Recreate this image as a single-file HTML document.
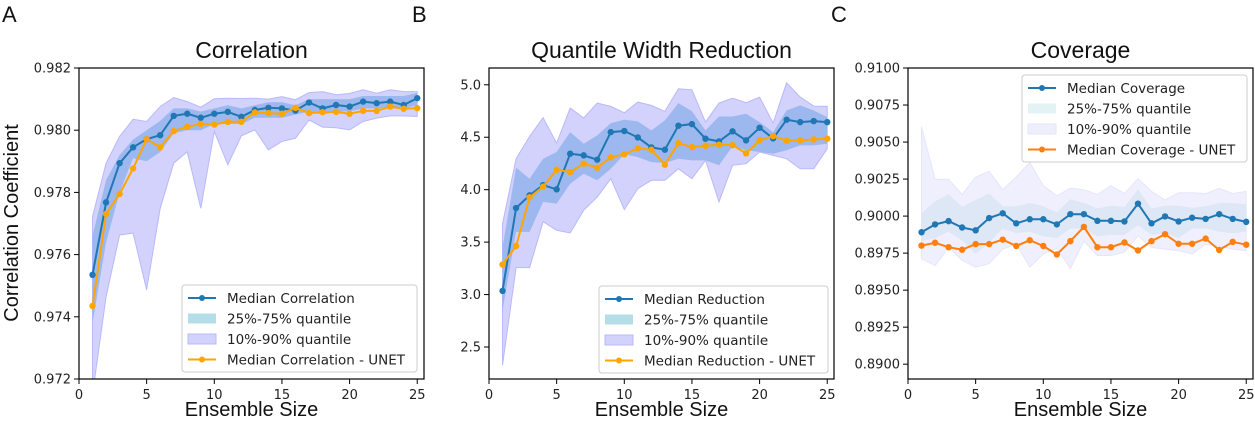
<!DOCTYPE html>
<html><head><meta charset="utf-8"><style>
body{margin:0;background:#fff;}
svg{display:block;font-family:"DejaVu Sans","Liberation Sans",sans-serif;}
</style></head><body>
<svg id="fig" width="1255" height="423" viewBox="0 0 1255 423" xmlns="http://www.w3.org/2000/svg"></svg>
<script>
const ensembleSizes=[1,2,3,4,5,6,7,8,9,10,11,12,13,14,15,16,17,18,19,20,21,22,23,24,25];
const xTicks=[0,5,10,15,20,25];
// Panel A
const corrMedian=[0.97535,0.97768,0.97894,0.97945,0.97971,0.97984,0.98046,0.98053,0.9804,0.98053,0.98059,0.98043,0.98065,0.98072,0.9807,0.98063,0.98089,0.9807,0.98081,0.98076,0.98092,0.98087,0.98092,0.98081,0.98103];
const corrUnet=[0.97435,0.97731,0.97795,0.97877,0.97971,0.97945,0.97997,0.98011,0.9802,0.98018,0.98027,0.98027,0.98057,0.98055,0.98053,0.98072,0.98055,0.98058,0.98059,0.98053,0.98062,0.98062,0.98076,0.98069,0.98071];
const corrQ10=[0.9715,0.97465,0.97663,0.97669,0.97487,0.97749,0.97894,0.97931,0.97749,0.97996,0.97889,0.97982,0.98001,0.97937,0.97964,0.97974,0.98033,0.98010,0.98008,0.98001,0.98028,0.98039,0.98046,0.98046,0.98044];
const corrQ90=[0.97722,0.97894,0.9798,0.98035,0.98028,0.98076,0.98105,0.98092,0.98074,0.98101,0.98103,0.98102,0.98103,0.98100,0.98108,0.98098,0.98121,0.98124,0.98114,0.98118,0.9813,0.98119,0.9813,0.98124,0.98124];
const corrQ25=[0.9738,0.9764,0.978,0.9791,0.979,0.9793,0.9799,0.98,0.98,0.9802,0.9802,0.9802,0.9804,0.9804,0.9804,0.9805,0.9806,0.9805,0.9806,0.9806,0.9807,0.9807,0.9807,0.9807,0.9808];
const corrQ75=[0.9766,0.9784,0.9792,0.9797,0.98,0.9803,0.9807,0.9807,0.9806,0.9807,0.9808,0.9807,0.9808,0.9809,0.9809,0.9808,0.981,0.981,0.981,0.981,0.9811,0.9811,0.9811,0.9811,0.9812];
const corrTicks=[0.972,0.974,0.976,0.978,0.980,0.982];
// Panel B
const redMedian=[3.035,3.825,3.946,4.044,4.003,4.343,4.327,4.286,4.549,4.559,4.498,4.403,4.381,4.61,4.625,4.486,4.46,4.556,4.47,4.59,4.489,4.667,4.644,4.654,4.644];
const redUnet=[3.286,3.463,3.927,4.029,4.19,4.168,4.248,4.21,4.308,4.337,4.394,4.381,4.238,4.444,4.406,4.419,4.429,4.425,4.346,4.47,4.511,4.467,4.47,4.479,4.486];
const redQ10=[2.327,3.257,3.257,3.695,3.613,3.587,3.803,3.93,4.105,3.81,4.01,4.089,4.089,4.2,4.105,4.279,3.883,4.232,4.248,4.359,4.327,4.295,4.2,4.2,4.39];
const redQ90=[3.676,4.295,4.508,4.686,4.444,4.778,4.683,4.825,4.794,4.733,4.835,4.803,4.746,4.962,4.952,4.644,4.825,4.873,4.829,4.883,4.635,5.019,4.883,4.797,4.794];
const redQ25=[2.85,3.597,3.597,3.883,3.867,4.057,4.152,4.089,4.2,4.337,4.311,4.263,4.254,4.295,4.279,4.279,4.232,4.413,4.375,4.359,4.343,4.375,4.422,4.422,4.438];
const redQ75=[3.45,4.21,4.105,4.295,4.359,4.549,4.438,4.517,4.635,4.667,4.651,4.565,4.66,4.825,4.749,4.565,4.698,4.698,4.724,4.644,4.549,4.756,4.803,4.756,4.692];
const redTicks=[2.5,3.0,3.5,4.0,4.5,5.0];
// Panel C
const covMedian=[0.89891,0.89944,0.89966,0.89923,0.89904,0.89987,0.90019,0.89951,0.89979,0.89979,0.89944,0.90013,0.90013,0.89968,0.89968,0.89964,0.90084,0.89951,0.89998,0.89964,0.89989,0.89981,0.90013,0.89981,0.89961];
const covUnet=[0.89801,0.8982,0.8979,0.89773,0.89811,0.89811,0.89841,0.89798,0.89837,0.89798,0.89741,0.89831,0.89927,0.8979,0.8979,0.89822,0.89768,0.89831,0.89878,0.89813,0.89813,0.89848,0.89771,0.89826,0.89807];
const covQ10=[0.89713,0.89666,0.89788,0.89702,0.89655,0.8968,0.89777,0.89813,0.89655,0.89745,0.89783,0.89646,0.89831,0.89734,0.89734,0.89756,0.89867,0.89788,0.89777,0.89766,0.89745,0.89809,0.89798,0.89777,0.89766];
const covQ90=[0.90602,0.90249,0.90249,0.90146,0.90264,0.90302,0.90178,0.90264,0.90362,0.90206,0.90137,0.90189,0.90178,0.90146,0.90206,0.90152,0.90253,0.90167,0.90109,0.90157,0.90157,0.90152,0.90187,0.90152,0.90167];
const covQ25=[0.89831,0.89852,0.89895,0.89835,0.89745,0.8982,0.89916,0.89884,0.89895,0.89863,0.89852,0.89916,0.89916,0.89863,0.89873,0.89873,0.89938,0.89873,0.89884,0.89852,0.89916,0.89916,0.89895,0.89884,0.89895];
const covQ75=[0.90019,0.90099,0.90148,0.90062,0.90109,0.90152,0.90066,0.90066,0.90088,0.90066,0.90024,0.90114,0.90088,0.90051,0.9007,0.90062,0.9018,0.90051,0.9007,0.9007,0.90055,0.90066,0.90088,0.90088,0.90081];
const covTicks=[0.8900,0.8925,0.8950,0.8975,0.9000,0.9025,0.9050,0.9075,0.9100];

const NS='http://www.w3.org/2000/svg';
const svg=document.getElementById('fig');
function mk(tag,attrs,parent,txt){const e=document.createElementNS(NS,tag);for(const k in attrs)e.setAttribute(k,attrs[k]);if(txt!==undefined)e.textContent=txt;(parent||svg).appendChild(e);return e;}

function panel(cfg){
  const g=mk('g',{});
  
  
  const L=cfg.left,R=cfg.left+345,T=68,B=379;
  const xs=v=>L+(v-0)/25.5*(R-L);
  const ys=v=>B-(v-cfg.ymin)/(cfg.ymax-cfg.ymin)*(B-T);
  const band=(lo,hi,fill,stroke,name)=>{
    let d='M'+ensembleSizes.map((x,i)=>xs(x).toFixed(1)+','+ys(hi[i]).toFixed(1)).join('L');
    for(let i=ensembleSizes.length-1;i>=0;i--)d+='L'+xs(ensembleSizes[i]).toFixed(1)+','+ys(lo[i]).toFixed(1);
    const p=mk('path',{d:d+'Z',fill:fill,stroke:stroke,'stroke-width':1},g);
    
    
  };
  const cp=mk('clipPath',{id:'clip-'+cfg.id},g);
  mk('rect',{x:L,y:T,width:R-L,height:B-T},cp);
  const inner=mk('g',{'clip-path':'url(#clip-'+cfg.id+')'},g);
  const gg=g; 
  (function(){const g=inner;
    let d='M'+ensembleSizes.map((x,i)=>xs(x).toFixed(1)+','+ys(cfg.q90[i]).toFixed(1)).join('L');
    for(let i=24;i>=0;i--)d+='L'+xs(ensembleSizes[i]).toFixed(1)+','+ys(cfg.q10[i]).toFixed(1);
    const p=mk('path',{d:d+'Z',fill:cfg.c90,stroke:cfg.s90,'stroke-width':1},g);
    
    
    let d2='M'+ensembleSizes.map((x,i)=>xs(x).toFixed(1)+','+ys(cfg.q75[i]).toFixed(1)).join('L');
    for(let i=24;i>=0;i--)d2+='L'+xs(ensembleSizes[i]).toFixed(1)+','+ys(cfg.q25[i]).toFixed(1);
    const p2=mk('path',{d:d2+'Z',fill:cfg.c25,stroke:'none'},g);
    
    
    [[cfg.med,'#1f77b4','median-line'],[cfg.unet,cfg.oc,'unet-line']].forEach(([arr,col,nm])=>{
      const l=mk('polyline',{points:ensembleSizes.map((x,i)=>xs(x).toFixed(1)+','+ys(arr[i]).toFixed(1)).join(' '),fill:'none',stroke:col,'stroke-width':2},g);
      
      
      ensembleSizes.forEach((x,i)=>{const c=mk('circle',{cx:xs(x),cy:ys(arr[i]),r:3.2,fill:col},g);
        
        });
    });
  })();
  mk('rect',{x:L,y:T,width:R-L,height:B-T,fill:'none',stroke:'#000','stroke-width':1.2},gg);
  xTicks.forEach(t=>{const x=xs(t);mk('line',{x1:x,x2:x,y1:B,y2:B+5,stroke:'#000'},gg);
    const tx=mk('text',{x:x,y:B+20,'font-size':13,'text-anchor':'middle',fill:'#222'},gg,String(t));
    
    });
  cfg.ticks.forEach(t=>{const y=ys(t);mk('line',{x1:L-5,x2:L,y1:y,y2:y,stroke:'#000'},gg);
    const tx=mk('text',{x:L-8,y:y+4.5,'font-size':13,'text-anchor':'end',fill:'#222'},gg,t.toFixed(cfg.dec));
    
    });
  const ti=mk('text',{x:(L+R)/2,y:58,'font-size':23,'text-anchor':'middle',fill:'#111','font-family':'Liberation Sans, sans-serif'},gg,cfg.title);
  
  
  const xl=mk('text',{x:(L+R)/2,y:416,'font-size':20,'text-anchor':'middle',fill:'#111','font-family':'Liberation Sans, sans-serif'},gg,'Ensemble Size');
  
  
  const pl=mk('text',{x:cfg.left-79+2,y:22,'font-size':22,fill:'#111','font-family':'Liberation Sans, sans-serif'},gg,cfg.letter);
  
  
  // legend
  const lg=mk('g',{},gg);
  
  
  const [lx,ly,lw]=cfg.leg;
  mk('rect',{x:lx,y:ly,width:lw,height:87,rx:3,fill:'#fff','fill-opacity':0.85,stroke:'#ccc'},lg);
  cfg.labels.forEach((lab,i)=>{const cy=ly+13+i*20.5;
    if(i===0||i===3){const col=i===0?'#1f77b4':cfg.oc;
      mk('line',{x1:lx+6,x2:lx+34,y1:cy,y2:cy,stroke:col,'stroke-width':2},lg);
      mk('circle',{cx:lx+20,cy:cy,r:3,fill:col},lg);}
    else mk('rect',{x:lx+6,y:cy-5,width:28,height:10,fill:i===1?cfg.l25:cfg.l90,stroke:i===1?'none':cfg.s90},lg);
    const t=mk('text',{x:lx+45,y:cy+5,'font-size':13.5,fill:'#222'},lg,lab);
    
    
  });
}
panel({id:'correlation',letter:'A',left:79,ymin:0.972,ymax:0.982,ticks:corrTicks,dec:3,title:'Correlation',
  med:corrMedian,unet:corrUnet,q10:corrQ10,q90:corrQ90,q25:corrQ25,q75:corrQ75,oc:'#ffa500',
  c90:'#d2d2fd',s90:'#b9b9fb',c25:'#9db8ee',l25:'#b5dde8',l90:'#d2d2fd',leg:[182,285,235],
  labels:['Median Correlation','25%-75% quantile','10%-90% quantile','Median Correlation - UNET']});
panel({id:'reduction',letter:'B',left:489,ymin:2.195,ymax:5.16,ticks:redTicks,dec:1,title:'Quantile Width Reduction',
  med:redMedian,unet:redUnet,q10:redQ10,q90:redQ90,q25:redQ25,q75:redQ75,oc:'#ffa500',
  c90:'#d2d2fd',s90:'#b9b9fb',c25:'#9db8ee',l25:'#b5dde8',l90:'#d2d2fd',leg:[599,286,229],
  labels:['Median Reduction','25%-75% quantile','10%-90% quantile','Median Reduction - UNET']});
panel({id:'coverage',letter:'C',left:908,ymin:0.889,ymax:0.910,ticks:covTicks,dec:4,title:'Coverage',
  med:covMedian,unet:covUnet,q10:covQ10,q90:covQ90,q25:covQ25,q75:covQ75,oc:'#ff7f0e',
  c90:'#efeffd',s90:'#e6e6fb',c25:'#dde7f5',l25:'#e3f2f5',l90:'#eeeefc',leg:[1022,75,225],
  labels:['Median Coverage','25%-75% quantile','10%-90% quantile','Median Coverage - UNET']});
const yl=mk('text',{x:0,y:0,'font-size':20,'text-anchor':'middle',fill:'#111','font-family':'Liberation Sans, sans-serif',transform:'translate(18,223) rotate(-90)'},svg,'Correlation Coefficient');


</script>
</body></html>
